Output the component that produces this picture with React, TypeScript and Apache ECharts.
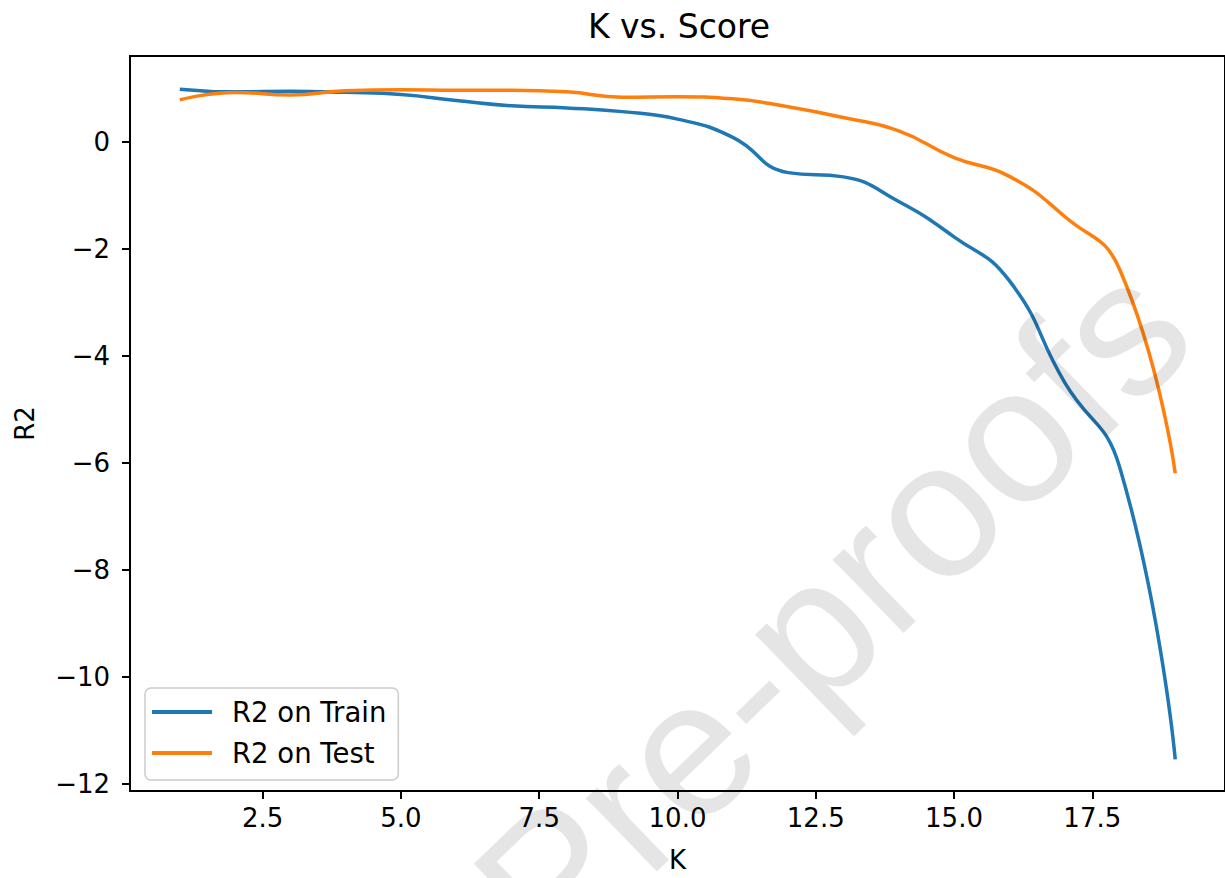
import React, { useEffect, useRef } from "react";
import * as echarts from "echarts";

// Number of neighbours K evaluated
const kValues = [1, 2, 3, 4, 5, 6, 7, 8, 9, 10, 11, 12, 13, 14, 15, 16, 17, 18, 19];
// R2 score on the training split
const trainR2 = [0.98, 0.93, 0.94, 0.92, 0.88, 0.77, 0.67, 0.63, 0.56, 0.42, 0.08, -0.58, -0.66, -1.12, -1.78, -2.6, -4.5, -6.1, -11.55];
// R2 score on the test split
const testR2 = [0.78, 0.92, 0.87, 0.95, 0.97, 0.96, 0.96, 0.93, 0.83, 0.84, 0.8, 0.65, 0.45, 0.2, -0.3, -0.65, -1.4, -2.4, -6.2];

const xTicks = [2.5, 5, 7.5, 10, 12.5, 15, 17.5];
const yTicks = [-12, -10, -8, -6, -4, -2, 0];

const FONT = "DejaVu Sans";

export default function App() {
  const ref = useRef<HTMLDivElement>(null);

  useEffect(() => {
    document.body.style.margin = "0";
    if (!ref.current) return;
    const chart = echarts.init(ref.current, undefined, { renderer: "svg" });

    const plotLeft = 130;
    const plotTop = 56;
    const plotWidth = 1098;
    const plotHeight = 738;

    chart.setOption({
      animation: false,
      backgroundColor: "#ffffff",
      textStyle: { fontFamily: FONT },
      grid: {
        left: plotLeft,
        top: plotTop,
        width: plotWidth,
        height: plotHeight,
        show: true,
        borderColor: "#000000",
        borderWidth: 2,
        backgroundColor: "transparent",
      },
      xAxis: {
        type: "value",
        min: 0.1,
        max: 19.9,
        name: "K",
        nameLocation: "middle",
        nameGap: 56,
        nameTextStyle: { fontSize: 26, color: "#000", fontFamily: FONT },
        axisLine: { show: false, onZero: false },
        splitLine: { show: false },
        axisTick: {
          show: true,
          length: 8,
          lineStyle: { color: "#000", width: 2 },
          customValues: xTicks,
        },
        axisLabel: {
          fontSize: 26,
          color: "#000",
          fontFamily: FONT,
          margin: 14,
          customValues: xTicks,
          formatter: (v: number) => v.toFixed(1),
        },
      },
      yAxis: {
        type: "value",
        min: -12.14,
        max: 1.6,
        name: "R2",
        nameLocation: "middle",
        nameGap: 92,
        nameRotate: 90,
        nameTextStyle: { fontSize: 26, color: "#000", fontFamily: FONT },
        axisLine: { show: false, onZero: false },
        splitLine: { show: false },
        axisTick: {
          show: true,
          length: 8,
          lineStyle: { color: "#000", width: 2 },
          customValues: yTicks,
        },
        axisLabel: {
          fontSize: 26,
          color: "#000",
          fontFamily: FONT,
          margin: 20,
          customValues: yTicks,
          formatter: (v: number) => (v < 0 ? "\u2212" + Math.abs(v) : String(v)),
        },
      },
      legend: {
        orient: "vertical",
        left: 145,
        top: 688,
        padding: [9, 12, 12, 7],
        itemWidth: 60,
        itemHeight: 4,
        itemGap: 11,
        icon: "rect",
        backgroundColor: "rgba(255,255,255,0.8)",
        borderColor: "#cccccc",
        borderWidth: 1.5,
        borderRadius: 6,
        textStyle: {
          fontSize: 27.5,
          lineHeight: 30,
          color: "#000",
          fontFamily: FONT,
          padding: [0, 0, 0, 15],
        },
        data: ["R2 on Train", "R2 on Test"],
      },
      series: [
        {
          name: "R2 on Train",
          type: "line",
          data: kValues.map((k, i) => [k, trainR2[i]]),
          smooth: 0.5,
          showSymbol: false,
          symbol: "none",
          color: "#1f77b4",
          lineStyle: { color: "#1f77b4", width: 3.5 },
          z: 2,
        },
        {
          name: "R2 on Test",
          type: "line",
          data: kValues.map((k, i) => [k, testR2[i]]),
          smooth: 0.5,
          showSymbol: false,
          symbol: "none",
          color: "#ff7f0e",
          lineStyle: { color: "#ff7f0e", width: 3.5 },
          z: 3,
        },
      ],
      graphic: [
        {
          type: "text",
          x: plotLeft + plotWidth / 2,
          y: 26,
          style: {
            text: "K vs. Score",
            fontSize: 33,
            fontFamily: FONT,
            fill: "#000",
            align: "center",
            verticalAlign: "middle",
          },
        },
        {
          type: "text",
          x: 832,
          y: 609,
          rotation: (44 * Math.PI) / 180,
          z: 100,
          silent: true,
          style: {
            text: "Pre-proofs",
            fontSize: 193,
            fontFamily: "Liberation Sans",
            fill: "rgba(0,0,0,0.1)",
            align: "center",
            verticalAlign: "middle",
          },
        },
      ],
    });

    return () => chart.dispose();
  }, []);

  return <div ref={ref} style={{ width: 1225, height: 878 }} />;
}
